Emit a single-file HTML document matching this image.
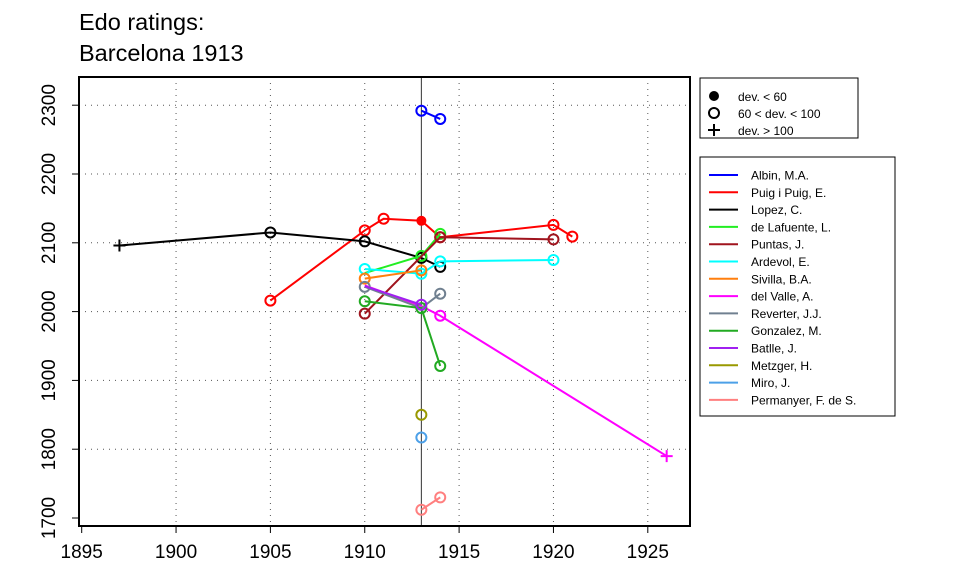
<!DOCTYPE html><html><head><style>body{margin:0;background:#fff}svg{display:block;font-family:"Liberation Sans",sans-serif}</style></head><body>
<svg id="s" width="960" height="576" xmlns="http://www.w3.org/2000/svg">
<text x="79" y="30" font-size="23.5">Edo ratings:</text>
<text x="79" y="61" font-size="23.5">Barcelona 1913</text>
</svg>
<script>
const s=document.getElementById('s');const NS='http://www.w3.org/2000/svg';
function el(t,a,txt){const e=document.createElementNS(NS,t);for(const k in a)e.setAttribute(k,a[k]);if(txt!==undefined)e.textContent=txt;s.appendChild(e);return e;}
const X=y=>81.7+(y-1895)*18.87, Y=r=>518-(r-1700)*0.688;
const L=79,R=690,T=77,B=526;
for(let yr=1900;yr<=1925;yr+=5)el('line',{x1:X(yr),x2:X(yr),y1:T,y2:B,stroke:'#555','stroke-dasharray':'1 5'});
for(let r=1800;r<=2300;r+=100)el('line',{x1:L,x2:R,y1:Y(r),y2:Y(r),stroke:'#555','stroke-dasharray':'1 5'});
el('line',{x1:X(1913),x2:X(1913),y1:T,y2:B,stroke:'#333','stroke-width':1});
const series=[
['#0000ff',[[1913,2292],[1914,2280]]],
['#ff0000',[[1905,2016],[1910,2118],[1911,2135],[1913,2132,'f'],[1914,2108],[1920,2126],[1921,2109]]],
['#000000',[[1897,2096,'p'],[1905,2115],[1910,2102],[1913,2078],[1914,2065]]],
['#22ee22',[[1910,2056,'n'],[1913,2081],[1914,2113]]],
['#a0141e',[[1910,1997],[1914,2108],[1920,2105]]],
['#00ffff',[[1910,2062],[1913,2055],[1914,2073],[1920,2075]]],
['#ff7f0e',[[1910,2048],[1913,2060]]],
['#ff00ff',[[1910,2038,'n'],[1913,2008,'n'],[1914,1994],[1926,1790,'p']]],
['#708090',[[1910,2036],[1913,2005,'n'],[1914,2026]]],
['#22aa22',[[1910,2015],[1913,2005],[1914,1921]]],
['#a020f0',[[1910,2037,'n'],[1913,2010]]],
['#999900',[[1913,1850]]],
['#4ca0e8',[[1913,1817]]],
['#ff7f7f',[[1913,1712],[1914,1730]]]];
for(const [c,p] of series){
 if(p.length>1)el('polyline',{points:p.map(q=>X(q[0])+','+Y(q[1])).join(' '),fill:'none',stroke:c,'stroke-width':2});
 for(const q of p){const x=X(q[0]),y=Y(q[1]);
  if(q[2]=='n')continue;
  if(q[2]=='p'){el('path',{d:`M${x-6} ${y}h12M${x} ${y-6}v12`,stroke:c,'stroke-width':2});}
  else if(q[2]=='f')el('circle',{cx:x,cy:y,r:5,fill:c});
  else el('circle',{cx:x,cy:y,r:5,fill:'none',stroke:c,'stroke-width':2});}
}
el('rect',{x:L,y:T,width:R-L,height:B-T,fill:'none',stroke:'#000','stroke-width':2});
for(let yr=1895;yr<=1925;yr+=5){el('line',{x1:X(yr),x2:X(yr),y1:B,y2:B+7,stroke:'#000'});el('text',{x:X(yr),y:558,'font-size':19,'text-anchor':'middle'},yr);}
for(let r=1700;r<=2300;r+=100){el('line',{x1:L-7,x2:L,y1:Y(r),y2:Y(r),stroke:'#000'});el('text',{x:0,y:0,'font-size':19,'text-anchor':'middle',transform:`translate(55,${Y(r)}) rotate(-90)`},r);}
el('rect',{x:700,y:78,width:158,height:60,fill:'none',stroke:'#000'});
el('circle',{cx:714,cy:96,r:5,fill:'#000'});el('text',{x:738,y:101,'font-size':12},'dev. < 60');
el('circle',{cx:714,cy:113,r:5,fill:'none',stroke:'#000','stroke-width':2});el('text',{x:738,y:118,'font-size':12},'60 < dev. < 100');
el('path',{d:'M708 130h12M714 124v12',stroke:'#000','stroke-width':2});el('text',{x:738,y:135,'font-size':12},'dev. > 100');
el('rect',{x:700,y:157,width:195,height:259,fill:'none',stroke:'#000'});
const names=['Albin, M.A.','Puig i Puig, E.','Lopez, C.','de Lafuente, L.','Puntas, J.','Ardevol, E.','Sivilla, B.A.','del Valle, A.','Reverter, J.J.','Gonzalez, M.','Batlle, J.','Metzger, H.','Miro, J.','Permanyer, F. de S.'];
names.forEach((n,i)=>{const y=175+i*17.3;el('line',{x1:709,x2:738,y1:y,y2:y,stroke:series[i][0],'stroke-width':2});el('text',{x:751,y:y+4.5,'font-size':12},n);});
</script></body></html>
